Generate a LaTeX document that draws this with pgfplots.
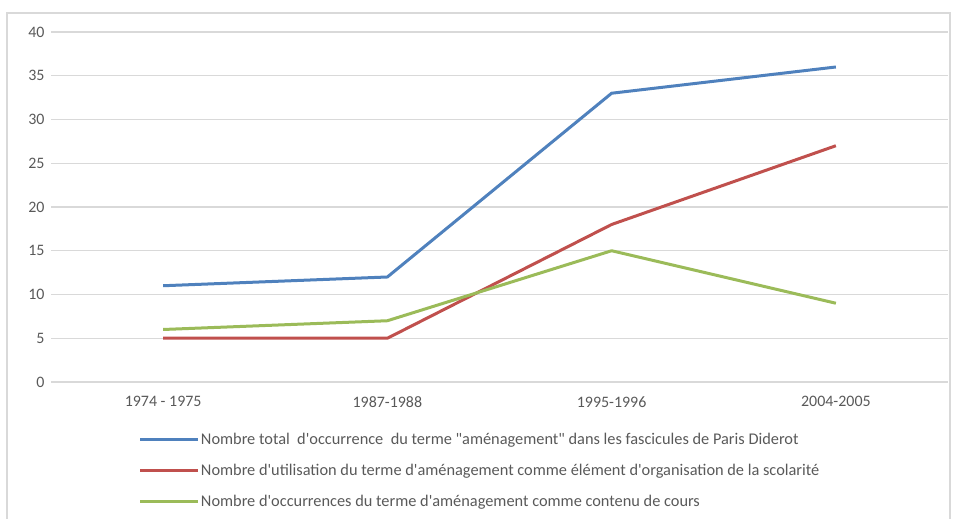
\documentclass[border=0pt]{standalone}
\usepackage{pgfplots}
\pgfplotsset{compat=1.18}
\usepackage{fontspec}
\setmainfont{Carlito}[Ligatures=TeXOff]
\definecolor{cblue}{HTML}{4F81BD}
\definecolor{cred}{HTML}{C0504D}
\definecolor{cgreen}{HTML}{9BBB59}
\definecolor{tgray}{HTML}{595959}
\definecolor{ggray}{HTML}{D9D9D9}
\begin{document}
\begin{tikzpicture}[x=1bp,y=1bp]
\path[use as bounding box] (0,0) rectangle (956,519);
\draw[color=ggray, line width=1.5bp] (7,-5) rectangle (950,506);
\begin{axis}[
  at={(51bp,137bp)}, anchor=south west,
  scale only axis, width=897bp, height=350bp,
  xmin=-0.5, xmax=3.5, ymin=0, ymax=40,
  ytick={0,5,...,40},
  xtick={0,1,2,3},
  xticklabels={1974 - 1975,1987-1988,1995-1996,2004-2005},
  ymajorgrids,
  grid style={color=ggray, line width=1.2bp},
  axis line style={draw=none},
  major tick length=0pt,
  /pgf/number format/assume math mode=true,
  tick label style={font=\fontsize{16}{19}\selectfont, color=tgray},
  yticklabel style={xshift=-3bp},
  xticklabel style={yshift=-11bp},
  legend style={at={(0.0945,-0.137)}, anchor=north west, draw=none, fill=none,
    legend cell align=left, font=\fontsize{16.4}{19}\selectfont, text=tgray,
    row sep=16bp, nodes={inner sep=1bp}},
  legend image code/.code={\draw[#1, line width=3bp] (0bp,0bp) -- (58bp,0bp);},
  every axis plot/.append style={line width=3bp, line join=round},
]
\addplot[color=cblue] coordinates {(0,11) (1,12) (2,33) (3,36)};
\addlegendentry{Nombre total\ \ d'occurrence\ \ du terme "aménagement" dans les fascicules de Paris Diderot}
\addplot[color=cred] coordinates {(0,5) (1,5) (2,18) (3,27)};
\addlegendentry{Nombre d'utilisation du terme d'aménagement comme élément d'organisation de la scolarité}
\addplot[color=cgreen] coordinates {(0,6) (1,7) (2,15) (3,9)};
\addlegendentry{Nombre d'occurrences du terme d'aménagement comme contenu de cours}
\end{axis}
\end{tikzpicture}
\end{document}
